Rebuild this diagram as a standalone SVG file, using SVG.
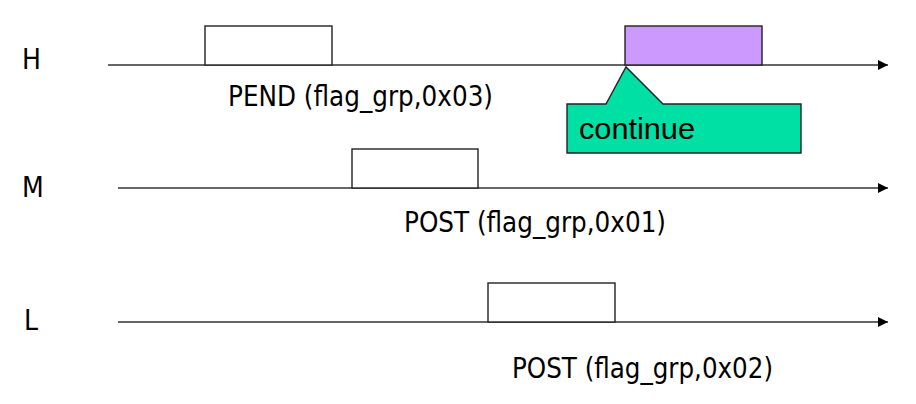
<svg xmlns="http://www.w3.org/2000/svg" width="916" height="404" viewBox="0 0 916 404">
<style>
.lbl{font-family:"DejaVu Sans Condensed","DejaVu Sans",sans-serif;font-size:28px;fill:#000}
.axis{stroke:#333;stroke-width:1.4;fill:none}
.box{fill:#fff;stroke:#222;stroke-width:1.4}
</style>
<defs>
<marker id="arr" markerWidth="11" markerHeight="11" refX="10" refY="5" orient="auto" markerUnits="userSpaceOnUse">
<path d="M0,0 L10,5 L0,10 Z" fill="#000"/>
</marker>
</defs>
<rect width="916" height="404" fill="#fff"/>
<g id="connectors">
<line class="axis" x1="108" y1="65" x2="888" y2="65" marker-end="url(#arr)"/>
<line class="axis" x1="118" y1="188" x2="888" y2="188" marker-end="url(#arr)"/>
<line class="axis" x1="118" y1="322" x2="888" y2="322" marker-end="url(#arr)"/>
</g>
<g id="label-H"><text class="lbl" x="22" y="69">H</text></g>
<g id="label-M"><text class="lbl" x="22" y="197">M</text></g>
<g id="label-L"><text class="lbl" x="24" y="330">L</text></g>
<g id="task-H"><rect class="box" x="205" y="26" width="127" height="39"/>
<text class="lbl" x="228" y="106" textLength="265" lengthAdjust="spacingAndGlyphs">PEND (flag_grp,0x03)</text></g>
<g id="task-H-run"><rect x="625" y="26" width="137" height="39" fill="#cc99ff" stroke="#222" stroke-width="1.4"/></g>
<g id="callout">
<path d="M567,104 L606,104 L626,67 L663,104 L801,104 L801,153 L567,153 Z" fill="#00e0a4" stroke="#222" stroke-width="1.4"/>
<text x="579" y="139" font-family="Liberation Sans,Arial,sans-serif" font-size="30" textLength="116" lengthAdjust="spacingAndGlyphs">continue</text>
</g>
<g id="task-M"><rect class="box" x="352" y="149" width="126" height="39"/>
<text class="lbl" x="404" y="232" textLength="262" lengthAdjust="spacingAndGlyphs">POST (flag_grp,0x01)</text></g>
<g id="task-L"><rect class="box" x="488" y="283" width="127" height="39"/>
<text class="lbl" x="512" y="378" textLength="261" lengthAdjust="spacingAndGlyphs">POST (flag_grp,0x02)</text></g>
</svg>
